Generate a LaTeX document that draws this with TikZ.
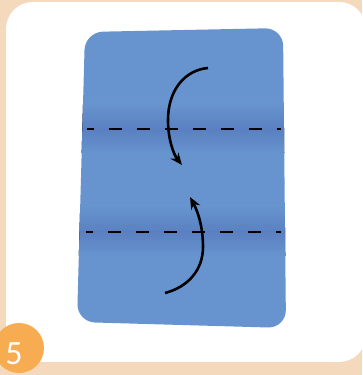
\documentclass[tikz,border=0pt]{standalone}
\usepackage{fontspec}
\setmainfont{Carlito}
\usetikzlibrary{arrows.meta}
\definecolor{peach}{HTML}{F4D9BD}
\definecolor{badge}{HTML}{F8AC52}
\definecolor{sheet}{HTML}{6794CE}
\definecolor{sheetdark}{HTML}{5A80C1}
\tikzset{
  foldline/.style={black, line width=2pt, dash pattern=on 13pt off 15pt, dash phase=6pt},
  foldarrow/.style={black, line width=2.6pt, -{Stealth[length=12pt,width=10pt]}},
  shadeup/.style={top color=sheet, bottom color=sheetdark, draw=none},
  shadedown/.style={top color=sheetdark, bottom color=sheet, draw=none}
}
\begin{document}
\begin{tikzpicture}[x=1pt,y=1pt]
  \useasboundingbox (0,0) rectangle (362,375);
  % card background and white panel
  \fill[peach] (0,0) rectangle (362,375);
  \fill[white, rounded corners=27pt] (6,13) rectangle (366,373);
  % paper sheet
  \def\sheetpath{(85,343) -- (283,347) -- (286,47) -- (77,53) -- cycle}
  \fill[sheet, rounded corners=18pt] \sheetpath;
  \begin{scope}
    \clip[rounded corners=18pt] \sheetpath;
    % shading along the two creases
    \fill[shadeup]   (60,245.5) rectangle (300,272);
    \fill[shadedown] (60,222)   rectangle (300,245.5);
    \fill[shadeup]   (60,143)   rectangle (300,169);
    \fill[shadedown] (60,119)   rectangle (300,143);
  \end{scope}
  % crease lines
  \coordinate (c1l) at (87,245.5);
  \coordinate (c1r) at (281,245.5);
  \coordinate (c2l) at (86,143);
  \coordinate (c2r) at (281,143);
  \draw[foldline] (c1l) -- (c1r);
  \draw[foldline] (c2l) -- (c2r);
  % fold arrows
  \coordinate (a1s) at (208,307);
  \coordinate (a1e) at (182,210);
  \coordinate (a2s) at (165,82);
  \coordinate (a2e) at (190,178);
  \draw[foldarrow] (a1s) .. controls (185,305) and (168,285) .. (168,255)
                         .. controls (168,235) and (174,220) .. (a1e);
  \draw[foldarrow] (a2s) .. controls (188,88) and (203,105) .. (203,128)
                         .. controls (203,150) and (197,165) .. (a2e);
  % step badge
  \fill[badge] (19,27) circle (25);
  \node[text=white, font=\fontsize{34}{34}\selectfont, inner sep=0pt] (num) at (14,21) {5};
\end{tikzpicture}
\end{document}
